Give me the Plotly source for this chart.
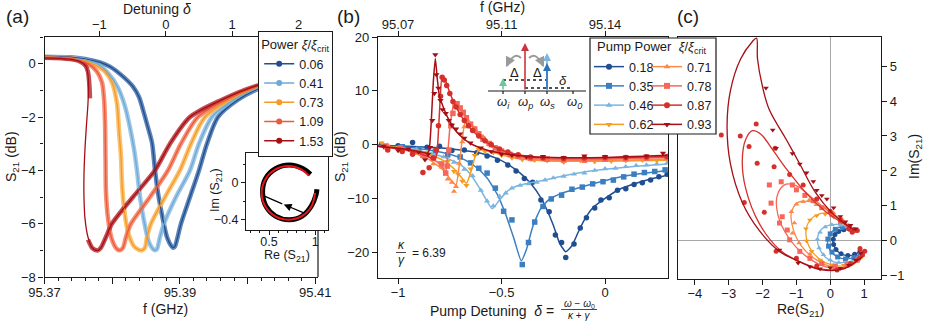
import plotly.graph_objects as go

W, H = 925, 321
FONT = "Liberation Sans, Arial, Helvetica, sans-serif"
INK = "#1a1a1a"


def px(x):
    return x / W


def py(y):
    return 1 - y / H


# ---------------- (a) S21 vs frequency for several drive powers ----------------
power_a = ["0.06", "0.41", "0.73", "1.09", "1.53"]
color_a = ["#1f4e91", "#6eaad6", "#f59a26", "#ec5a3a", "#a50f15"]
band_a = ["#3b68a8", "#86badf", "#fbb34f", "#f27658", "#b52228"]

f_006 = [95.37000, 95.37377, 95.37598, 95.37820, 95.37967, 95.38145, 95.38307, 95.38396, 95.38455,
         95.38529, 95.38588, 95.38632, 95.38676, 95.38750, 95.38809, 95.38868, 95.38898, 95.38927,
         95.38957, 95.39016, 95.39149, 95.39282, 95.39400, 95.39563, 95.39858, 95.40242, 95.40626,
         95.41040]
s_006 = [0.25, 0.24, 0.18, 0.05, -0.11, -0.45, -0.86, -1.25, -1.73, -2.4, -2.96, -3.98, -4.84, -5.85,
         -6.5, -6.82, -6.9, -6.85, -6.6, -6.0, -5.0, -4.0, -3.0, -2.0, -1.35, -0.85, -0.55, -0.35]

f_041 = [95.37000, 95.37377, 95.37598, 95.37775, 95.37938, 95.38086, 95.38189, 95.38263, 95.38322,
         95.38366, 95.38411, 95.38470, 95.38543, 95.38602, 95.38632, 95.38661, 95.38706, 95.38765,
         95.38942, 95.39149, 95.39282, 95.39474, 95.39799, 95.40212, 95.40626, 95.41040]
s_041 = [0.25, 0.22, 0.14, 0.0, -0.35, -0.9, -1.6, -2.4, -3.2, -4.0, -5.0, -5.9, -6.7, -6.95, -7.0,
         -6.95, -6.5, -6.0, -5.0, -4.0, -3.0, -2.0, -1.35, -0.85, -0.55, -0.35]

f_073 = [95.37000, 95.37377, 95.37598, 95.37746, 95.37894, 95.37997, 95.38071, 95.38100, 95.38130,
         95.38145, 95.38174, 95.38233, 95.38322, 95.38396, 95.38440, 95.38484, 95.38514, 95.38573,
         95.38780, 95.39001, 95.39164, 95.39371, 95.39740, 95.40183, 95.40626, 95.41040]
s_073 = [0.25, 0.2, 0.1, -0.05, -0.3, -0.7, -1.5, -2.5, -3.5, -4.5, -5.4, -6.3, -6.85, -6.98, -7.0,
         -6.9, -6.5, -6.0, -5.0, -4.0, -3.0, -2.0, -1.35, -0.85, -0.55, -0.35]

f_109 = [95.37000, 95.37377, 95.37524, 95.37642, 95.37775, 95.37849, 95.37879, 95.37894, 95.37901,
         95.37908, 95.37938, 95.37997, 95.38071, 95.38115, 95.38160, 95.38204, 95.38278, 95.38558,
         95.38824, 95.39016, 95.39267, 95.39681, 95.40153, 95.40626, 95.41040]
s_109 = [0.24, 0.2, 0.12, 0.0, -0.3, -0.7, -1.3, -2.2, -3.5, -4.8, -5.8, -6.6, -6.95, -7.0, -6.9,
         -6.5, -6.0, -5.0, -4.0, -3.0, -2.0, -1.35, -0.85, -0.55, -0.35]

# measured 1.53 trace jumps between branches, the fit folds back
f_153 = [95.37000, 95.37377, 95.37524, 95.37613, 95.37642, 95.37657, 95.37665, 95.37672, None,
         95.37642, 95.37702, 95.37746, 95.37790, 95.37834, 95.37908, 95.37997, 95.38307, 95.38632,
         95.38854, 95.39149, 95.39622, 95.40109, 95.40626, 95.41040]
s_153 = [0.22, 0.17, 0.08, -0.1, -0.3, -0.6, -0.9, -1.3, None, -6.6, -6.9, -6.98, -7.0, -6.9, -6.5,
         -6.0, -5.0, -4.0, -3.0, -2.0, -1.35, -0.85, -0.55, -0.35]
f_153_fit = [95.37000, 95.37377, 95.37524, 95.37613, 95.37642, 95.37650, 95.37642, 95.37620,
             95.37598, 95.37583, 95.37583, 95.37598, 95.37642, 95.37702, 95.37746, 95.37790,
             95.37834, 95.37908, 95.37997, 95.38307, 95.38632, 95.38854, 95.39149, 95.39622,
             95.40109, 95.40626, 95.41040]
s_153_fit = [0.22, 0.17, 0.08, -0.1, -0.4, -0.9, -1.5, -2.3, -3.2, -4.2, -5.0, -5.8, -6.5, -6.9,
             -6.98, -7.0, -6.9, -6.5, -6.0, -5.0, -4.0, -3.0, -2.0, -1.35, -0.85, -0.55, -0.35]

# inset: complex S21 at low power
ring_re = [0.95, 0.87, 0.72, 0.57, 0.46, 0.43, 0.47, 0.57, 0.72, 0.86, 0.96, 1.01, 1.02]
ring_im = [0.09, 0.15, 0.19, 0.15, 0.04, -0.11, -0.26, -0.36, -0.40, -0.36, -0.25, -0.13, -0.07]
circ_re = [0.932, 0.855, 0.71, 0.565, 0.459, 0.42, 0.459, 0.565, 0.71, 0.855, 0.961, 1.0]
circ_im = [0.076, 0.141, 0.18, 0.141, 0.035, -0.11, -0.255, -0.361, -0.40, -0.361, -0.255, -0.11]

# ---------------- (b) S21 vs pump detuning ----------------
bx_018 = [-1.1, -0.95, -0.8, -0.7, -0.6, -0.52, -0.46, -0.41, -0.36, -0.31, -0.28, -0.25, -0.22,
          -0.19, -0.16, -0.13, -0.1, -0.06, 0.0, 0.07, 0.15, 0.22, 0.3]
by_018 = [-0.1, -0.3, -0.6, -1.0, -1.6, -2.6, -3.9, -5.3, -7.2, -9.9, -12.2, -15.0, -18.3, -19.9,
          -18.8, -16.3, -14.0, -11.8, -10.0, -8.3, -7.2, -6.4, -5.7]
mx_018 = [-1.08, -1.0, -0.93, -0.86, -0.8, -0.74, -0.68, -0.62, -0.57, -0.52, -0.47, -0.43, -0.39,
          -0.35, -0.31, -0.27, -0.24, -0.21, -0.19, -0.15, -0.12, -0.09, -0.05, -0.02, 0.02, 0.06,
          0.1, 0.14, 0.18, 0.22, 0.26, 0.3]
my_018 = [0.0, -0.2, 0.4, -0.5, -0.3, -1.1, -1.0, -1.5, -2.1, -2.9, -3.8, -4.9, -6.3, -7.0, -10.3,
          -12.5, -16.8, -18.2, -21.0, -18.5, -15.5, -13.6, -11.8, -10.3, -9.9, -8.5, -8.2, -7.4,
          -7.1, -6.6, -6.0, -5.5]

bx_035 = [-1.1, -0.95, -0.85, -0.75, -0.68, -0.62, -0.57, -0.52, -0.48, -0.44, -0.405, -0.38,
          -0.35, -0.31, -0.27, -0.22, -0.15, -0.05, 0.05, 0.15, 0.3]
by_035 = [-0.2, -0.5, -1.0, -1.8, -2.8, -4.3, -6.2, -9.3, -13.0, -17.5, -21.6, -19.5, -15.3, -11.8,
          -10.2, -9.2, -8.3, -7.2, -6.2, -5.5, -4.8]
mx_035 = [-1.06, -0.98, -0.9, -0.82, -0.76, -0.7, -0.65, -0.61, -0.57, -0.53, -0.49, -0.45, -0.4,
          -0.37, -0.34, -0.3, -0.26, -0.21, -0.16, -0.11, -0.06, -0.01, 0.04, 0.09, 0.14, 0.19,
          0.24, 0.29]
my_035 = [-0.3, -0.4, -0.8, -1.2, -1.9, -2.3, -3.4, -4.4, -5.3, -8.1, -12.4, -14.0, -22.3, -18.2,
          -14.4, -11.5, -10.1, -9.4, -8.3, -7.9, -7.3, -6.9, -6.6, -6.0, -5.5, -5.2, -5.0, -4.7]

bx_046 = [-1.1, -0.95, -0.85, -0.76, -0.7, -0.65, -0.6, -0.545, -0.51, -0.47, -0.42, -0.36, -0.28,
          -0.2, -0.1, 0.0, 0.1, 0.2, 0.3]
by_046 = [-0.3, -0.8, -1.5, -2.6, -3.7, -5.5, -8.5, -11.9, -10.3, -8.6, -7.6, -7.1, -6.5, -5.8,
          -5.1, -4.6, -4.2, -3.9, -3.6]
mx_046 = [-1.07, -0.99, -0.91, -0.84, -0.78, -0.73, -0.68, -0.64, -0.6, -0.57, -0.54, -0.51, -0.48,
          -0.45, -0.41, -0.37, -0.33, -0.29, -0.25, -0.2, -0.15, -0.1, -0.05, 0.0, 0.05, 0.1, 0.15,
          0.2, 0.25, 0.3]
my_046 = [-0.1, -0.6, -0.9, -1.8, -2.3, -3.3, -4.6, -5.8, -8.5, -10.5, -11.4, -9.6, -9.0, -8.1,
          -7.6, -7.3, -7.0, -6.6, -6.2, -5.9, -5.5, -5.3, -4.8, -4.5, -4.4, -4.1, -3.9, -3.8, -3.6,
          -3.4]

bx_062 = [-1.1, -0.95, -0.85, -0.78, -0.73, -0.69, -0.67, -0.65, -0.63, -0.61, -0.57, -0.52, -0.46,
          -0.4, -0.3, -0.15, 0.0, 0.15, 0.3]
by_062 = [-0.2, -0.8, -1.8, -3.0, -4.5, -6.3, -7.2, -5.3, -2.5, -1.0, -1.2, -1.7, -2.3, -2.7, -3.0,
          -3.1, -3.1, -3.0, -2.9]
mx_062 = [-1.08, -1.0, -0.92, -0.86, -0.8, -0.76, -0.73, -0.71, -0.69, -0.67, -0.65, -0.63, -0.61,
          -0.58, -0.54, -0.5, -0.45, -0.4, -0.34, -0.28, -0.2, -0.12, -0.05, 0.03, 0.1, 0.18, 0.25,
          0.3]
my_062 = [0.3, -0.5, -1.3, -1.5, -3.4, -3.1, -5.0, -5.5, -6.8, -7.6, -4.5, -2.0, -0.9, -1.3, -1.5,
          -2.0, -2.5, -2.8, -2.9, -3.0, -3.3, -3.0, -3.2, -3.1, -3.0, -2.9, -3.0, -2.8]

bx_071 = [-1.1, -0.95, -0.85, -0.78, -0.74, -0.72, -0.705, -0.69, -0.675, -0.65, -0.62, -0.58,
          -0.54, -0.5, -0.44, -0.36, -0.25, -0.1, 0.1, 0.3]
by_071 = [-0.3, -1.2, -2.8, -4.8, -6.8, -7.5, -4.0, 1.0, 4.2, 4.0, 2.6, 0.8, -0.6, -1.5, -2.3, -2.8,
          -3.0, -3.0, -2.9, -2.7]
mx_071 = [-1.05, -0.98, -0.92, -0.87, -0.83, -0.79, -0.76, -0.74, -0.73, -0.72, -0.705, -0.69,
          -0.68, -0.665, -0.65, -0.63, -0.61, -0.59, -0.57, -0.55, -0.52, -0.49, -0.45, -0.4, -0.35,
          -0.28, -0.2, -0.1, 0.0, 0.1, 0.2, 0.3]
my_071 = [-0.1, -1.0, -1.6, -2.3, -3.6, -4.2, -6.4, -7.0, -8.7, -7.8, -3.5, 0.5, 3.3, 4.6, 3.8, 3.0,
          2.0, 1.5, 0.5, -0.3, -1.2, -1.6, -2.2, -2.6, -2.9, -3.0, -3.1, -3.0, -3.0, -2.9, -2.8, -2.7]

bx_078 = [-1.1, -0.95, -0.87, -0.8, -0.77, -0.763, -0.75, -0.735, -0.72, -0.7, -0.67, -0.63, -0.58,
          -0.53, -0.47, -0.4, -0.3, -0.15, 0.05, 0.3]
by_078 = [-0.3, -1.0, -2.0, -3.5, -5.0, -3.0, 3.0, 6.8, 7.5, 6.6, 4.8, 2.7, 0.6, -0.8, -1.8, -2.4,
          -2.7, -2.8, -2.7, -2.4]
mx_078 = [-1.06, -0.99, -0.93, -0.88, -0.83, -0.79, -0.77, -0.763, -0.755, -0.745, -0.735, -0.725,
          -0.715, -0.7, -0.685, -0.67, -0.65, -0.63, -0.61, -0.59, -0.56, -0.53, -0.5, -0.46, -0.42,
          -0.36, -0.28, -0.2, -0.1, 0.0, 0.1, 0.2, 0.3]
my_078 = [-0.4, -0.6, -1.4, -2.0, -2.5, -3.6, -5.3, -4.0, -1.0, 3.5, 5.8, 7.3, 7.6, 6.8, 6.0, 5.0,
          3.8, 2.9, 2.0, 1.0, 0.2, -0.6, -1.2, -1.8, -2.2, -2.5, -2.7, -2.8, -2.9, -2.7, -2.6, -2.5,
          -2.4]

bx_087 = [-1.1, -0.97, -0.9, -0.85, -0.82, -0.81, -0.8, -0.787, -0.77, -0.75, -0.72, -0.69, -0.65,
          -0.6, -0.55, -0.5, -0.43, -0.35, -0.2, 0.0, 0.3]
by_087 = [-0.3, -0.9, -1.6, -2.3, -2.8, -0.5, 6.0, 12.8, 11.8, 9.6, 7.0, 5.0, 3.0, 1.2, -0.1, -1.0,
          -1.8, -2.3, -2.5, -2.5, -2.2]
mx_087 = [-1.05, -0.98, -0.93, -0.88, -0.85, -0.83, -0.815, -0.805, -0.795, -0.787, -0.777, -0.765,
          -0.75, -0.735, -0.72, -0.7, -0.68, -0.66, -0.64, -0.61, -0.58, -0.55, -0.51, -0.47, -0.42,
          -0.36, -0.3, -0.2, -0.1, 0.0, 0.1, 0.2, 0.3]
my_087 = [-1.0, -1.3, -1.8, -5.2, -4.3, -2.5, -1.0, 3.5, 9.0, 12.5, 12.0, 11.0, 9.5, 8.0, 7.0, 5.6,
          4.5, 3.5, 2.6, 1.6, 0.7, 0.0, -0.8, -1.4, -1.9, -2.3, -2.5, -2.6, -2.5, -2.4, -2.4, -2.3,
          -2.2]

bx_093 = [-1.1, -0.97, -0.9, -0.86, -0.85, -0.84, -0.83, -0.82, -0.81, -0.8, -0.78, -0.76, -0.73,
          -0.7, -0.65, -0.58, -0.5, -0.4, -0.25, 0.0, 0.3]
by_093 = [-0.3, -0.8, -1.3, -1.6, -1.0, 4.0, 11.5, 16.0, 12.0, 9.0, 6.8, 5.0, 3.0, 1.7, 0.2, -0.9,
          -1.6, -2.1, -2.4, -2.4, -2.0]
mx_093 = [-1.07, -1.0, -0.95, -0.9, -0.87, -0.855, -0.845, -0.835, -0.825, -0.82, -0.815, -0.805,
          -0.795, -0.785, -0.77, -0.755, -0.74, -0.72, -0.7, -0.68, -0.65, -0.6, -0.55, -0.5, -0.45,
          -0.38, -0.3, -0.2, -0.1, 0.0, 0.1, 0.2, 0.28]
my_093 = [-0.3, -1.1, -0.8, -1.4, -2.8, -1.8, -0.5, 4.5, 9.5, 16.7, 13.0, 10.5, 8.2, 6.5, 5.8, 4.5,
          3.6, 2.9, 2.0, 1.2, 0.3, -0.6, -1.3, -1.8, -2.0, -2.3, -2.2, -2.4, -2.1, -2.2, -2.3, -2.1,
          -1.6]

# ---------------- (c) complex plane ----------------
cx_018 = [0.88, 0.7, 0.5, 0.3, 0.15, 0.08, 0.1, 0.22, 0.4, 0.58, 0.72]
cy_018 = [-0.3, -0.4, -0.42, -0.36, -0.22, -0.05, 0.12, 0.25, 0.32, 0.33, 0.3]
cmx_018 = [0.88, 0.72, 0.52, 0.32, 0.17, 0.1, 0.09, 0.14, 0.25, 0.4, 0.58, 0.7]
cmy_018 = [-0.3, -0.38, -0.42, -0.37, -0.25, -0.1, 0.05, 0.18, 0.27, 0.32, 0.33, 0.3]

cx_035 = [0.9, 0.7, 0.45, 0.2, 0.0, -0.08, -0.02, 0.15, 0.4, 0.6, 0.72]
cy_035 = [-0.35, -0.47, -0.52, -0.45, -0.28, -0.05, 0.18, 0.34, 0.4, 0.36, 0.3]
cmx_035 = [0.9, 0.7, 0.45, 0.22, 0.05, -0.05, -0.07, 0.0, 0.15, 0.35, 0.55, 0.7]
cmy_035 = [-0.38, -0.48, -0.52, -0.46, -0.32, -0.15, 0.05, 0.2, 0.33, 0.39, 0.37, 0.31]

cx_046 = [0.92, 0.7, 0.4, 0.1, -0.15, -0.32, -0.38, -0.3, -0.12, 0.15, 0.45, 0.72]
cy_046 = [-0.42, -0.56, -0.62, -0.6, -0.46, -0.22, 0.05, 0.28, 0.42, 0.47, 0.43, 0.3]
cmx_046 = [0.92, 0.75, 0.5, 0.25, 0.0, -0.2, -0.33, -0.38, -0.3, -0.15, 0.05, 0.3, 0.5, 0.65, 0.72]
cmy_046 = [-0.42, -0.55, -0.62, -0.62, -0.55, -0.4, -0.2, 0.05, 0.25, 0.4, 0.46, 0.45, 0.4, 0.34, 0.3]

cx_062 = [0.95, 0.7, 0.3, -0.15, -0.5, -0.7, -0.68, -0.45, -0.1, 0.3, 0.72]
cy_062 = [-0.42, -0.62, -0.72, -0.62, -0.35, 0.05, 0.45, 0.72, 0.8, 0.62, 0.3]
cmx_062 = [0.95, 0.7, 0.4, 0.05, -0.3, -0.55, -0.7, -0.72, -0.6, -0.4, -0.15, 0.1, 0.35, 0.55, 0.7]
cmy_062 = [-0.45, -0.62, -0.7, -0.68, -0.55, -0.3, 0.0, 0.35, 0.6, 0.72, 0.76, 0.68, 0.55, 0.42, 0.3]

cx_071 = [0.95, 0.6, 0.1, -0.4, -0.85, -1.1, -1.15, -0.95, -0.6, -0.2, 0.2, 0.5, 0.72]
cy_071 = [-0.45, -0.72, -0.75, -0.55, -0.15, 0.35, 0.8, 1.1, 1.12, 0.95, 0.7, 0.48, 0.3]
cmx_071 = [0.95, 0.75, 0.45, 0.1, -0.25, -0.6, -0.92, -1.12, -1.06, -1.15, -1.0, -0.8, -0.62,
           -0.41, -0.15, 0.1, 0.35, 0.55, 0.7]
cmy_071 = [-0.42, -0.6, -0.7, -0.72, -0.6, -0.38, -0.06, 0.22, 0.51, 0.83, 1.05, 1.12, 1.17, 1.03,
           0.95, 0.8, 0.62, 0.45, 0.33]

cx_078 = [0.95, 0.5, -0.1, -0.7, -1.2, -1.55, -1.55, -1.3, -0.95, -0.5, -0.05, 0.35, 0.72]
cy_078 = [-0.45, -0.75, -0.75, -0.45, 0.05, 0.75, 1.35, 1.62, 1.55, 1.2, 0.85, 0.55, 0.3]
cmx_078 = [0.95, 0.8, 0.5, 0.15, -0.25, -0.6, -0.9, -1.2, -1.27, -1.42, -1.5, -1.75, -1.8, -1.45,
           -1.12, -1.0, -0.75, -0.5, -0.25, 0.05, 0.3, 0.55, 0.7]
cmy_078 = [-0.35, -0.55, -0.68, -0.72, -0.65, -0.5, -0.3, 0.03, 0.31, 0.69, 0.51, 1.08, 1.6, 1.69,
           1.6, 1.46, 1.3, 1.15, 0.95, 0.75, 0.55, 0.4, 0.3]

cx_087 = [0.95, 0.4, -0.3, -1.0, -1.5, -2.1, -2.5, -2.6, -2.5, -2.3, -2.05, -1.7, -1.25, -0.7,
          -0.15, 0.35, 0.72]
cy_087 = [-0.45, -0.78, -0.8, -0.55, -0.25, 0.5, 1.5, 2.3, 2.9, 3.15, 3.05, 2.6, 2.0, 1.35, 0.85,
          0.52, 0.3]
cmx_087 = [0.95, 1.02, 0.88, 0.85, 0.6, 0.2, -0.4, -1.0, -1.6, -1.95, -2.54, -3.22, -2.66, -2.19,
           -2.4, -1.63, -2.16, -1.66, -1.2, -0.8, -0.4, 0.0, 0.3, 0.55, 0.65, 0.8]
cmy_087 = [-0.4, -0.3, -0.22, -0.5, -0.65, -0.83, -0.72, -0.5, -0.3, 0.82, 1.1, 3.03, 3.0, 3.34,
           2.7, 2.65, 2.22, 2.12, 1.9, 1.6, 1.2, 0.85, 0.6, 0.35, 0.25, 0.3]

cx_093 = [0.95, 0.4, -0.3, -0.9, -1.5, -2.1, -2.6, -2.95, -3.05, -2.95, -2.65, -2.3, -2.18, -2.15,
          -2.0, -1.8, -1.3, -0.9, -0.45, 0.05, 0.45, 0.72]
cy_093 = [-0.45, -0.8, -0.82, -0.6, -0.3, 0.3, 1.1, 2.2, 3.3, 4.3, 5.2, 5.7, 5.8, 5.2, 4.4, 3.75,
          2.9, 2.2, 1.4, 0.8, 0.48, 0.3]
cmx_093 = [0.9, 0.75, 0.55, 0.3, 0.0, -0.3, -0.6, -0.95, -1.5, -1.9, -1.7, -1.6, -1.12, -0.9, -0.7,
           -0.5, -0.4, -0.25, -0.1, 0.1, 0.3, 0.45, 0.6, 0.75]
cmy_093 = [-0.35, -0.55, -0.7, -0.78, -0.77, -0.8, -0.74, -0.63, -0.26, 4.37, 3.17, 2.65, 2.5, 2.2,
           1.95, 1.7, 1.45, 1.3, 1.2, 0.95, 0.7, 0.55, 0.45, 0.35]

power_b = ["0.18", "0.35", "0.46", "0.62", "0.71", "0.78", "0.87", "0.93"]
color_b = ["#1f4e91", "#3b7fc1", "#7ab5df", "#f59d22", "#fb8a46", "#f6675a", "#d6302a", "#a50f15"]
symbol_b = ["circle", "square", "triangle-up", "triangle-down",
            "triangle-up", "square", "circle", "triangle-down"]

fig = go.Figure()

# ---- (a) traces
data_a = [(f_006, s_006), (f_041, s_041), (f_073, s_073), (f_109, s_109), (f_153, s_153)]
fit_a = [(f_006, s_006), (f_041, s_041), (f_073, s_073), (f_109, s_109), (f_153_fit, s_153_fit)]
for (fx, fy), col in zip(data_a, band_a):
    fig.add_trace(go.Scatter(x=fx, y=fy, mode="lines", opacity=0.8,
                             line=dict(color=col, width=4.5, shape="spline", smoothing=0.8),
                             showlegend=False, hoverinfo="skip"))
for (fx, fy), col in zip(fit_a, color_a):
    fig.add_trace(go.Scatter(x=fx, y=fy, mode="lines",
                             line=dict(color=col, width=1.3, shape="spline", smoothing=0.8),
                             showlegend=False, hoverinfo="skip"))
# legend keys live on the top (detuning) axis so that axis gets drawn
for name, col in zip(power_a, color_a):
    fig.add_trace(go.Scatter(x=[None], y=[None], mode="lines+markers", name=name,
                             xaxis="x2", yaxis="y",
                             line=dict(color=col, width=1.5), marker=dict(color=col, size=6),
                             legend="legend"))

# inset
fig.add_trace(go.Scatter(x=ring_re, y=ring_im, mode="lines", xaxis="x6", yaxis="y6",
                         line=dict(color="black", width=5, shape="spline"), showlegend=False))
fig.add_trace(go.Scatter(x=circ_re, y=circ_im, mode="lines", xaxis="x6", yaxis="y6",
                         line=dict(color="#e8141b", width=2, shape="spline"), showlegend=False))

# ---- (b) and (c) traces
fits_b = [(bx_018, by_018), (bx_035, by_035), (bx_046, by_046), (bx_062, by_062),
          (bx_071, by_071), (bx_078, by_078), (bx_087, by_087), (bx_093, by_093)]
pts_b = [(mx_018, my_018), (mx_035, my_035), (mx_046, my_046), (mx_062, my_062),
         (mx_071, my_071), (mx_078, my_078), (mx_087, my_087), (mx_093, my_093)]
fits_c = [(cx_018, cy_018), (cx_035, cy_035), (cx_046, cy_046), (cx_062, cy_062),
          (cx_071, cy_071), (cx_078, cy_078), (cx_087, cy_087), (cx_093, cy_093)]
pts_c = [(cmx_018, cmy_018), (cmx_035, cmy_035), (cmx_046, cmy_046), (cmx_062, cmy_062),
         (cmx_071, cmy_071), (cmx_078, cmy_078), (cmx_087, cmy_087), (cmx_093, cmy_093)]

for i, (name, col, sym) in enumerate(zip(power_b, color_b, symbol_b)):
    fig.add_trace(go.Scatter(x=pts_b[i][0], y=pts_b[i][1], mode="markers", xaxis="x3", yaxis="y3",
                             marker=dict(color=col, symbol=sym, size=5.5), showlegend=False))
    fig.add_trace(go.Scatter(x=fits_b[i][0], y=fits_b[i][1], mode="lines", xaxis="x3", yaxis="y3",
                             line=dict(color=col, width=1.5, shape="spline", smoothing=0.5),
                             showlegend=False))
    fig.add_trace(go.Scatter(x=pts_c[i][0], y=pts_c[i][1], mode="markers", xaxis="x5", yaxis="y5",
                             marker=dict(color=col, symbol=sym, size=5), showlegend=False))
    fig.add_trace(go.Scatter(x=fits_c[i][0], y=fits_c[i][1], mode="lines", xaxis="x5", yaxis="y5",
                             line=dict(color=col, width=1.3, shape="spline", smoothing=1.0),
                             showlegend=False))
for i, (name, col, sym) in enumerate(zip(power_b, color_b, symbol_b)):
    fig.add_trace(go.Scatter(x=[None], y=[None], mode="lines+markers", name=name,
                             xaxis="x4", yaxis="y3",
                             line=dict(color=col, width=1.5), marker=dict(color=col, symbol=sym, size=6),
                             legend="legend2" if i < 4 else "legend3"))


def axis_style(**kw):
    base = dict(showline=True, linecolor=INK, linewidth=1.2, ticks="outside", ticklen=5,
                tickwidth=1.2, tickcolor=INK, showgrid=False, zeroline=False, automargin=False,
                tickfont=dict(family=FONT, size=13, color=INK))
    base.update(kw)
    return base


def minor(tick0, dtick, ln=3):
    return dict(tickmode="linear", tick0=tick0, dtick=dtick, ticks="outside", ticklen=ln,
                tickcolor=INK, tickwidth=1, showgrid=False)


def label(x, y, text, size=14, angle=0, xanchor="center"):
    return dict(x=px(x), y=py(y), xref="paper", yref="paper", text=text, showarrow=False,
                textangle=angle, xanchor=xanchor, yanchor="middle",
                font=dict(family=FONT, size=size, color=INK))


def arrow(x, y, dx, dy, col, width=1.6, head=2):
    return dict(x=px(x), y=py(y), xref="paper", yref="paper", text="", showarrow=True,
                ax=dx, ay=dy, arrowhead=head, arrowsize=1, arrowwidth=width, arrowcolor=col)


def seg(x0, y0, x1, y1, col=INK, width=1.2, dash="solid"):
    return dict(type="line", xref="paper", yref="paper", x0=px(x0), y0=py(y0), x1=px(x1),
                y1=py(y1), line=dict(color=col, width=width, dash=dash), layer="above")


def curve(x0, y0, cx, cy, x1, y1, col="#9a9a9a"):
    path = f"M {px(x0)},{py(y0)} Q {px(cx)},{py(cy)} {px(x1)},{py(y1)}"
    return dict(type="path", xref="paper", yref="paper", path=path,
                line=dict(color=col, width=2), layer="above")


annotations = [
    label(17, 16, "(a)", 19), label(348, 16, "(b)", 19), label(688, 16, "(c)", 19),
    label(157, 9, "Detuning <i>δ</i>"),
    label(165, 309, "f (GHz)"),
    label(12, 157, "S<sub>21</sub> (dB)", angle=-90),
    label(502, 7, "f (GHz)"),
    label(341, 157, "S<sub>21</sub> (dB)", angle=-90),
    label(800, 310, "Re(S<sub>21</sub>)"),
    label(915, 157, "Im(S<sub>21</sub>)", angle=-90),
    label(287, 256, "Re (S<sub>21</sub>)", 12.5),
    label(216, 190, "Im (S<sub>21</sub>)", 12.5, angle=-90),
    # (b) bottom title with fraction
    label(556, 311, "Pump Detuning  <i>δ</i> =", 14, xanchor="right"),
    label(579, 304, "<i>ω</i> − <i>ω</i><sub>0</sub>", 10),
    label(579, 315, "<i>κ</i> + <i>γ</i>", 10),
    # kappa / gamma
    label(401, 245, "<i>κ</i>", 12), label(401, 260, "<i>γ</i>", 12),
    label(410, 253, "= 6.39", 12, xanchor="left"),
    # (b) legend title
    label(595, 47, "Pump Power  <i>ξ</i>/<i>ξ</i><sub>crit</sub>", 13, xanchor="left"),
    # schematic labels
    label(514, 72, "Δ", 13), label(537, 72, "Δ", 13), label(563, 81, "<i>δ</i>", 13),
    label(503, 102, "<i>ω<sub>i</sub></i>", 13), label(525, 102, "<i>ω<sub>p</sub></i>", 13),
    label(547, 102, "<i>ω<sub>s</sub></i>", 13), label(574, 102, "<i>ω<sub>0</sub></i>", 13),
    # schematic arrows
    arrow(525, 43, 0, 48, "#c9363e"),
    arrow(547, 53, 0, 38, "#7ab5df"),
    arrow(547, 63, 0, 28, "#2b73bd"),
    arrow(503, 78, 0, 13, "#6cc79e"),
    arrow(506, 67, 3, -6, "#9a9a9a", 2),
    arrow(544, 67, -3, -6, "#9a9a9a", 2),
    # inset arrow
    dict(x=0.66, y=-0.235, xref="x6", yref="y6", ax=0.9, ay=-0.335, axref="x6", ayref="y6",
         text="", showarrow=True, arrowhead=2, arrowsize=1.2, arrowwidth=1.3, arrowcolor="black"),
    dict(x=0.45, y=-0.145, xref="x6", yref="y6", ax=0.66, ay=-0.235, axref="x6", ayref="y6",
         text="", showarrow=True, arrowhead=0, arrowwidth=1.3, arrowcolor="black"),
]

shapes = [
    # (b) legend frame
    dict(type="rect", xref="paper", yref="paper", x0=px(590), y0=py(134), x1=px(716), y1=py(38),
         fillcolor="white", line=dict(color=INK, width=1.2), layer="above"),
    # (a) right frame pieces visible between legend and inset
    seg(318, 150, 318, 153), seg(318, 230, 318, 277),
    # fraction bars
    seg(561, 309.5, 597, 309.5, width=0.8), seg(396, 252.5, 406, 252.5, width=0.8),
    # schematic
    seg(488, 91, 586, 91), seg(503, 91, 503, 94), seg(525, 91, 525, 94),
    seg(547, 91, 547, 94), seg(573, 91, 573, 94),
    seg(503, 80, 547, 80, dash="dot", width=1.3), seg(525, 88, 573, 88, dash="dot", width=1.3),
    curve(521, 58, 514, 51, 507, 66), curve(529, 58, 536, 51, 543, 66),
]

fig.update_layout(
    width=W, height=H, margin=dict(l=0, r=0, t=0, b=0, autoexpand=False),
    paper_bgcolor="white", plot_bgcolor="white",
    font=dict(family=FONT, size=13, color=INK),
    xaxis=axis_style(domain=[px(44.5), px(318)], anchor="y", range=[95.37, 95.4104],
                     tickvals=[95.37, 95.38, 95.39, 95.40, 95.41],
                     ticktext=["95.37", "", "95.39", "", "95.41"], ticklen=6,
                     ticklabelstandoff=-3, minor=minor(95.37, 0.002)),
    xaxis2=axis_style(overlaying="x", side="top", anchor="y", range=[-1.827, 2.293],
                      tickvals=[-1, 0, 1, 2], ticklabelstandoff=-3),
    yaxis=axis_style(domain=[py(277), py(37)], anchor="x", range=[-8, 1.0],
                     tickvals=[-8, -6, -4, -2, 0], minor=minor(-8, 1)),
    xaxis3=axis_style(domain=[px(378), px(668)], anchor="y3", range=[-1.097, 0.304],
                      tickvals=[-1, -0.5, 0], ticktext=["−1", "−0.5", "0"], ticklabelstandoff=-3),
    xaxis4=axis_style(overlaying="x3", side="top", anchor="y3", range=[-1.097, 0.304],
                      tickvals=[-1, -0.5, 0], ticktext=["95.07", "95.11", "95.14"],
                      ticklabelstandoff=-3),
    yaxis3=axis_style(domain=[py(278), py(37)], anchor="x3", range=[-24.8, 20],
                      tickvals=[-20, -10, 0, 10, 20], mirror=True),
    xaxis5=axis_style(domain=[px(678), px(881)], anchor="y5", range=[-4.5, 1.5], dtick=1, tick0=0,
                      mirror=True, zeroline=True, zerolinecolor="#a8a8a8", zerolinewidth=1,
                      ticklabelstandoff=-3),
    yaxis5=axis_style(domain=[py(279), py(37)], anchor="x5", side="right", range=[-1.09, 5.83],
                      dtick=1, tick0=0, mirror=True, zeroline=True, zerolinecolor="#a8a8a8",
                      zerolinewidth=1),
    xaxis6=axis_style(domain=[px(246), px(328)], anchor="y6", range=[0.25, 1.14],
                      tickvals=[0.5, 1], ticktext=["0.5", "1"], mirror=True, ticklen=4,
                      ticklabelstandoff=-4, minor=minor(0, 0.1, 2),
                      tickfont=dict(family=FONT, size=12.5, color=INK)),
    yaxis6=axis_style(domain=[py(230), py(153)], anchor="x6", range=[-0.51, 0.32],
                      tickvals=[-0.4, 0], mirror=True, ticklen=4, minor=minor(0, 0.2, 2),
                      tickfont=dict(family=FONT, size=12.5, color=INK)),
    legend=dict(x=px(258), y=py(31), xanchor="left", yanchor="top", bgcolor="white",
                bordercolor=INK, borderwidth=1.2, font=dict(size=12.5), tracegroupgap=0,
                title=dict(text="Power <i>ξ</i>/<i>ξ</i><sub>crit</sub>", font=dict(size=13))),
    legend2=dict(x=px(589), y=py(52), xanchor="left", yanchor="top", bgcolor="rgba(0,0,0,0)",
                 borderwidth=0, font=dict(size=12.5), tracegroupgap=0),
    legend3=dict(x=px(647), y=py(52), xanchor="left", yanchor="top", bgcolor="rgba(0,0,0,0)",
                 borderwidth=0, font=dict(size=12.5), tracegroupgap=0),
    annotations=annotations,
    shapes=shapes,
)

# the page body has a default 8 px margin; drop it so the figure sits at the window origin
fig.write_html("out.html", config={"displayModeBar": False},
               post_script="document.body.style.margin='0';")
